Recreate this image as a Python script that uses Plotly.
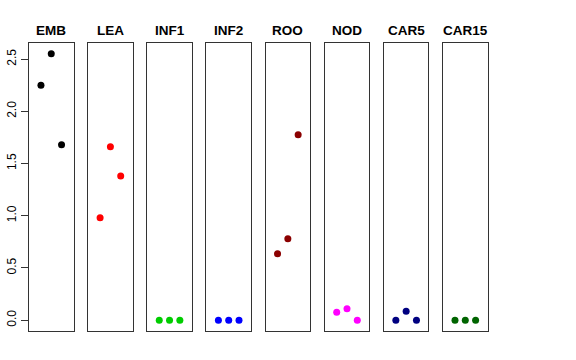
import plotly.graph_objects as go

categories = ["EMB", "LEA", "INF1", "INF2", "ROO", "NOD", "CAR5", "CAR15"]
x_pos = [1, 2, 3]
values = {
    "EMB": [2.25, 2.55, 1.68],
    "LEA": [0.98, 1.66, 1.38],
    "INF1": [0.0, 0.0, 0.0],
    "INF2": [0.0, 0.0, 0.0],
    "ROO": [0.635, 0.78, 1.775],
    "NOD": [0.075, 0.11, 0.0],
    "CAR5": [0.0, 0.085, 0.0],
    "CAR15": [0.0, 0.0, 0.0],
}
colors = ["#000000", "#FF0000", "#00CD00", "#0000FF", "#8B0000", "#FF00FF", "#000080", "#006400"]
y_ticks = [0.0, 0.5, 1.0, 1.5, 2.0, 2.5]
y_tick_text = ["0.0", "0.5", "1.0", "1.5", "2.0", "2.5"]

W, H = 576, 360
left0, pitch, pw = 29.0, 59.15, 44.5
top, bottom = 43.0, 331.0

fig = go.Figure()
layout = {}
annotations = []
for i, cat in enumerate(categories):
    n = "" if i == 0 else str(i + 1)
    x0 = left0 + i * pitch
    dom_x = [x0 / W, (x0 + pw) / W]
    fig.add_trace(go.Scatter(
        x=x_pos, y=values[cat], mode="markers",
        marker=dict(color=colors[i], size=7, line=dict(width=0)),
        xaxis="x" + n, yaxis="y" + n, showlegend=False, hoverinfo="skip",
    ))
    layout["xaxis" + n] = dict(
        domain=dom_x, range=[-0.16, 4.16], showgrid=False, zeroline=False,
        showticklabels=False, ticks="", showline=True, mirror=True, automargin=False,
        linecolor="#333333", linewidth=1, anchor="y" + n, fixedrange=True,
    )
    ya = dict(
        domain=[(H - bottom) / H, (H - top) / H], range=[-0.104, 2.654],
        showgrid=False, zeroline=False, showline=True, mirror=True, automargin=False,
        linecolor="#333333", linewidth=1, anchor="x" + n, fixedrange=True,
    )
    if i == 0:
        ya.update(tickvals=y_ticks, ticktext=y_tick_text, ticks="outside",
                  ticklen=7, tickcolor="#333333", tickangle=-90,
                  tickfont=dict(family="Liberation Sans, Arial", size=12, color="#000000"))
    else:
        ya.update(showticklabels=False, ticks="")
    layout["yaxis" + n] = ya
    annotations.append(dict(
        text="<b>" + cat + "</b>", x=(x0 + pw / 2) / W, y=(H - 30) / H,
        xref="paper", yref="paper", showarrow=False, xanchor="center", yanchor="middle",
        font=dict(family="Liberation Sans, Arial", size=13.5, color="#000000"),
    ))

fig.update_layout(
    width=W, height=H, margin=dict(l=0, r=0, t=0, b=0, autoexpand=False),
    paper_bgcolor="white", plot_bgcolor="white",
    annotations=annotations, **layout,
)
fig.write_html("out.html", config={"displayModeBar": False, "staticPlot": True},
               post_script="document.body.style.margin='0';document.body.style.padding='0';")
